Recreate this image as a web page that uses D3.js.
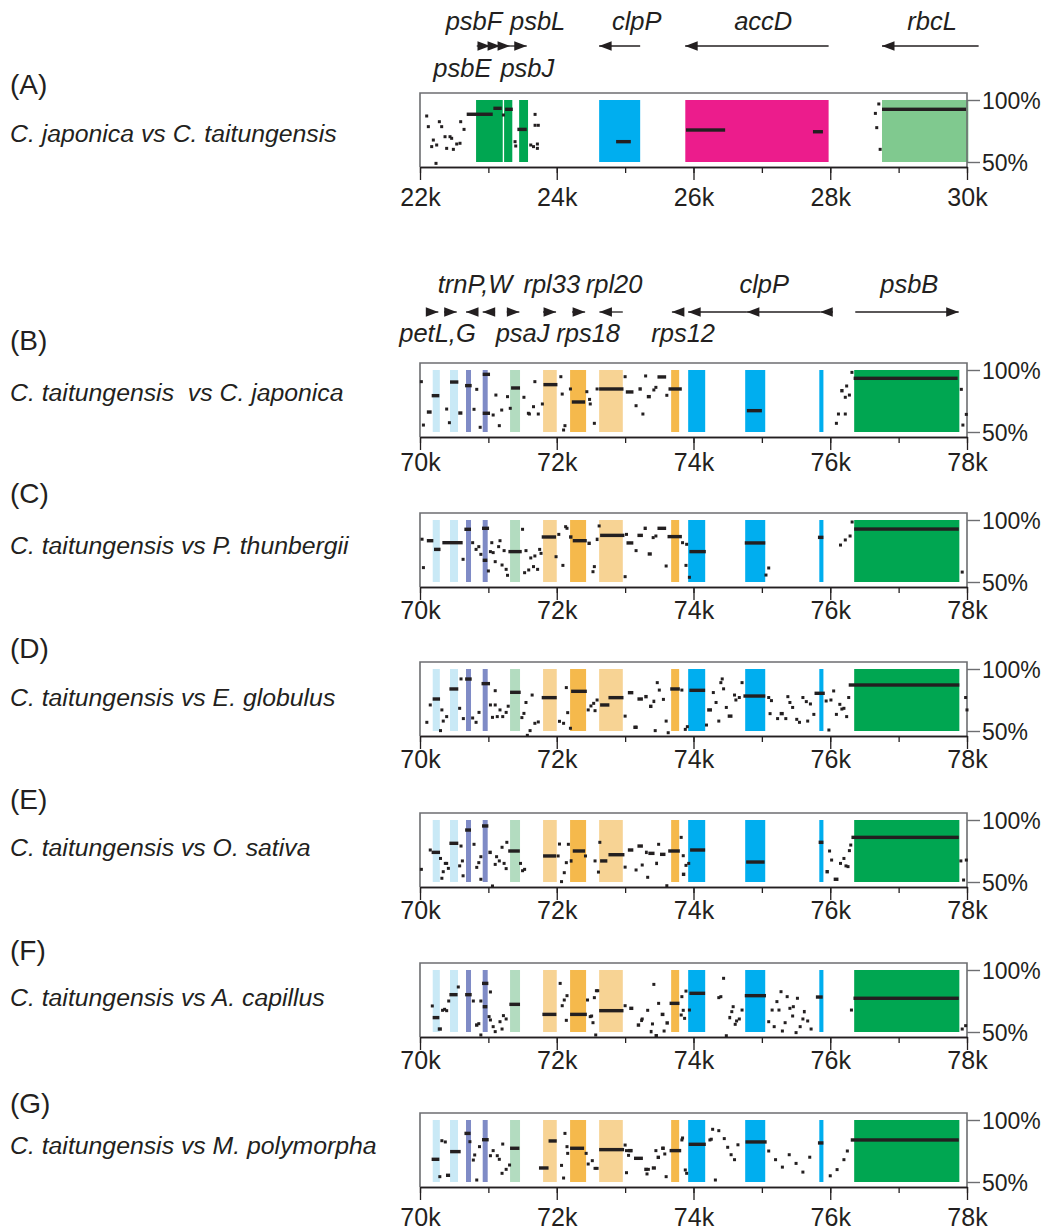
<!DOCTYPE html>
<html><head><meta charset="utf-8">
<script src="https://cdn.jsdelivr.net/npm/d3@7"></script>
<style>body{margin:0;background:#fff}svg{display:block}</style>
</head><body>
<script>
// ---------------- DATA ----------------
const percentTicks = [50, 100];
const tickLabelsA = ["22k","24k","26k","28k","30k"];
const tickLabelsB = ["70k","72k","74k","76k","78k"];

// gene bands [start(k), end(k), gene type]
const bandsA = [[22.82,23.21,"psb"],[23.23,23.35,"psb"],[23.45,23.58,"psb"],[24.62,25.22,"clpP"],[25.88,27.976,"accD"],[28.757,30.02,"rbcL"]];
const bandsBG = [[70.186,70.29,"pet"],[70.439,70.556,"pet"],[70.673,70.746,"trn"],[70.917,70.99,"trn"],[71.317,71.463,"psaJ"],[71.80,72.0,"rpl"],[72.195,72.429,"rps"],[72.62,72.966,"rpl"],[73.673,73.79,"rps"],[73.922,74.171,"clpP"],[74.756,75.049,"clpP"],[75.84,75.90,"clpP"],[76.35,77.888,"psbB"]];

// gene arrows [tail(k), tip(k)]
const arrowsA = [[22.83,23.024],[23.024,23.171],[23.171,23.317],[23.317,23.561],[25.22,24.62],[27.976,25.878],[30.17,28.757]];
const arrowsB = [[70.098,70.268],[70.351,70.537],[70.849,70.673],[71.098,70.917],[71.269,71.453],[71.8,71.99],[72.224,72.415],[72.966,72.624],[73.853,73.684],[74.781,73.922],[75.854,74.781],[76.04,75.854],[76.366,77.878]];

// gene labels [name, position(k), row]
const geneLabelsA = [["psbF",22.79,"top"],["psbL",23.72,"top"],["clpP",25.17,"top"],["accD",27.02,"top"],["rbcL",29.49,"top"],["psbE",22.62,"bottom"],["psbJ",23.57,"bottom"]];
const geneLabelsB = [["trnP,W",70.805,"top"],["rpl33",71.927,"top"],["rpl20",72.839,"top"],["clpP",75.034,"top"],["psbB",77.156,"top"],["petL,G",70.256,"bottom"],["psaJ",71.5,"bottom"],["rps18",72.459,"bottom"],["rps12",73.849,"bottom"]];

const panelLetters = ["(A)","(B)","(C)","(D)","(E)","(F)","(G)"];
const comparisonLabels = ["C. japonica vs C. taitungensis","C. taitungensis  vs C. japonica","C. taitungensis vs P. thunbergii","C. taitungensis vs E. globulus","C. taitungensis vs O. sativa","C. taitungensis vs A. capillus","C. taitungensis vs M. polymorpha"];

// identity segments [start(k), end(k), percent]; dots [pos(k), percent]
const barsA = [[22.683,23.064,88.5],[23.073,23.196,93.3],[23.244,23.357,92.5],[23.424,23.561,76.3],[24.868,25.083,66.4],[25.89,26.463,75.8],[27.747,27.893,74.4],[28.757,29.986,92.5]];
const dotsA = [[22.098,87.1],[22.122,78.5],[22.283,82.5],[22.317,78.5],[22.195,67.7],[22.171,62.4],[22.244,63.7],[22.366,70.4],[22.439,70.4],[22.463,69.1],[22.39,61.0],[22.488,60.2],[22.537,64.5],[22.585,65.1],[22.595,82.5],[22.644,76.3],[22.234,48.9],[23.22,87.9],[23.39,66.4],[23.4,62.9],[23.62,63.7],[23.66,62.4],[23.717,64.5],[23.717,61.0],[23.683,88.4],[23.683,79.6],[23.73,79.6],[28.71,96.8],[28.66,89.2],[28.68,77.7],[28.73,60.2]];

const barsB = [[70.171,70.283,79.3],[70.439,70.561,90.3],[70.659,70.756,87.4],[70.917,71.024,96.5],[70.917,71.024,65.1],[71.332,71.463,85.5],[71.805,72.01,88.2],[72.22,72.415,74.2],[72.62,72.976,84.7],[73.01,73.122,82.3],[73.195,73.244,84.7],[73.317,73.376,78.5],[73.473,73.6,94.4],[73.634,73.829,84.7],[70.1,70.17,66.1],[70.56,70.62,65.3],[74.78,75.0,67.2],[76.342,77.863,93.3],[76.146,76.195,83.3]];
const dotsB = [[70.05,55.6],[70.02,90.6],[70.39,68.5],[70.43,57.5],[70.79,68.3],[70.83,84.4],[70.88,53.8],[71.07,63.7],[71.11,79.8],[71.16,55.1],[71.195,67.7],[71.28,78.5],[71.32,69.1],[71.52,78.0],[71.585,65.1],[71.6,64.5],[71.66,70.4],[71.68,90.6],[71.73,64.5],[71.79,72.6],[72.06,94.6],[72.08,80.6],[72.12,55.1],[72.1,51.6],[72.2,84.7],[72.44,82.5],[72.48,76.3],[72.49,72.6],[72.55,57],[72.59,84.7],[73.0,94.6],[73.16,71.2],[73.26,64.5],[73.3,95.2],[73.45,86],[73.42,83.9],[73.61,79.6],[76.317,98.1],[76.24,87.1],[76.28,79.8],[76.22,78],[76.12,64.5],[76.22,64.5],[76.09,57],[77.917,84.4],[77.99,64.2],[77.94,55.6]];

const barsC = [[70.1,70.195,83.3],[70.205,70.3,76.3],[70.327,70.624,81.7],[70.649,70.746,92.5],[70.907,71.01,93.3],[70.917,70.985,67.5],[71.293,71.488,74.5],[71.78,71.99,86.3],[72.18,72.23,86.3],[72.234,72.439,83.3],[72.449,72.498,81.2],[72.57,72.61,84.4],[72.634,72.99,87.6],[73.02,73.12,81.5],[73.18,73.26,87.6],[73.27,73.317,93.3],[73.33,73.39,72.6],[73.473,73.6,93.3],[73.62,73.83,86.6],[73.94,74.18,74.5],[74.75,75.05,81.5],[75.82,75.9,86],[76.35,77.88,92.7]];
const dotsC = [[70.05,61.6],[70.03,84.5],[70.63,68.3],[70.77,81.7],[70.82,76.3],[70.86,78.5],[70.89,72.3],[71.0,58.9],[71.03,74.5],[71.07,73.7],[71.1,66.4],[71.05,81.7],[71.15,78.5],[71.17,83.3],[71.2,63.7],[71.23,75.3],[71.26,60.2],[71.28,55.4],[71.5,92.5],[71.55,75.3],[71.53,57.5],[71.59,59.7],[71.62,69.4],[71.66,62.4],[71.68,71.0],[71.72,60.2],[71.75,76.3],[71.77,73.1],[71.99,70.4],[72.03,88.4],[72.09,63.4],[72.13,94.6],[72.15,93.3],[72.62,95.2],[72.55,62.4],[72.53,58.3],[73.02,88.4],[73.0,54.3],[73.16,75.3],[73.41,85.8],[73.45,87.1],[73.6,62.9],[73.84,81.7],[73.9,80.4],[73.89,63.4],[73.94,53.8],[75.06,55.6],[75.1,61.3],[76.15,79.8],[76.22,83.9],[76.29,87.1],[76.32,98.4],[77.93,58]];

const barsD = [[70.185,70.293,75.8],[70.43,70.56,83.9],[70.66,70.756,91.9],[70.9,71.024,88.2],[71.317,71.473,81.2],[71.78,72.0,76.9],[72.21,72.44,82.0],[72.634,72.77,71.0],[72.756,72.976,76.9],[73.04,73.12,80.9],[73.18,73.26,75.8],[73.28,73.33,77.7],[73.35,73.4,69.9],[73.4,73.44,73.9],[73.12,73.18,53],[73.66,73.8,83.9],[73.94,74.17,82.8],[74.2,74.27,67],[74.5,74.57,62],[74.73,75.05,78.2],[75.26,75.32,64],[75.77,75.92,80.4],[76.27,77.888,87.1]];
const dotsD = [[70.1,57],[70.15,71],[70.3,50.3],[70.32,67],[70.34,58],[70.39,61.6],[70.58,68.3],[70.6,92],[70.634,60],[70.77,60.5],[70.82,57],[70.863,65],[71.03,71],[71.06,61],[71.1,71],[71.1,82.5],[71.13,61.6],[71.17,67],[71.21,61.6],[71.26,65],[71.29,70],[71.49,60.8],[71.52,64.2],[71.55,73],[71.57,46.5],[71.61,50.3],[71.64,79],[71.68,56.2],[71.73,57.3],[72.04,57.8],[72.1,56.2],[72.14,85],[72.16,64.8],[72.2,52.2],[72.46,67],[72.5,70.2],[72.54,72.3],[72.56,66.4],[72.59,75],[73.0,62],[73.16,53],[73.44,50.3],[73.47,89],[73.5,83],[73.56,75.5],[73.6,58],[73.63,48.6],[73.83,83],[73.88,51.3],[73.91,53.5],[74.19,54.8],[74.29,81],[74.33,73],[74.37,58],[74.4,89],[74.42,92],[74.44,84],[74.48,69],[74.6,79],[74.62,75],[74.67,77],[74.71,89],[75.1,77],[75.14,74.5],[75.12,64],[75.23,60],[75.35,60],[75.38,77.7],[75.41,73],[75.45,69],[75.51,59.4],[75.55,57],[75.6,77],[75.65,73.7],[75.67,58],[75.71,71.8],[75.76,63.4],[75.94,74.2],[75.98,50.8],[76.01,75],[76.05,82.3],[76.09,63.4],[76.14,71.5],[76.17,67.7],[76.2,68.3],[76.24,61.6],[76.27,77],[77.98,77],[78.0,67]];

const barsE = [[70.17,70.293,73.9],[70.43,70.56,81.2],[70.66,70.746,91.9],[70.907,71.0,95.2],[71.0,71.05,73.9],[71.29,71.46,75],[71.8,71.99,71],[72.234,72.415,75],[72.19,72.23,67],[72.634,72.74,67],[72.756,72.99,72],[73.04,73.12,75.8],[73.18,73.26,79],[73.29,73.33,73.9],[73.34,73.43,73.1],[73.51,73.59,72.3],[73.63,73.8,75],[73.95,74.17,75.8],[73.44,73.48,65],[73.83,73.88,56.2],[74.77,75.04,66.1],[75.83,75.9,82],[75.93,75.98,58.3],[76.05,76.12,52.2],[76.31,77.88,86]];
const dotsE = [[70.02,60.2],[70.15,75.8],[70.3,69],[70.32,53],[70.34,58.3],[70.37,65],[70.39,65],[70.415,61],[70.58,63],[70.6,79],[70.62,67],[70.63,55],[70.79,80.4],[70.83,61.8],[70.86,65.6],[70.89,52.2],[70.89,70.4],[71.06,46.8],[71.1,64.2],[71.12,70.4],[71.16,67],[71.2,78],[71.23,65],[71.26,60.8],[71.27,82],[71.47,65],[71.5,59.1],[71.53,60.2],[72.02,71],[72.04,80.6],[72.07,50.3],[72.11,57.5],[72.14,65.6],[72.17,80.4],[72.42,71],[72.56,67],[72.61,58],[72.63,82],[73.0,62],[73.16,59.7],[73.25,63.7],[73.33,53.8],[73.49,80.4],[73.61,47],[73.82,86],[73.85,71.2],[73.89,63.4],[73.93,65],[75.99,75],[76.02,67.7],[76.15,65],[76.2,69],[76.23,63],[76.26,62.4],[76.28,75.3],[76.3,79.8],[77.91,67],[77.99,67.7],[77.95,51.6]];

const barsF = [[70.185,70.283,61.6],[70.26,70.32,52.4],[70.43,70.55,80.1],[70.66,70.756,80.1],[70.907,71.0,89.2],[70.917,70.985,70.4],[70.805,70.854,55.6],[71.307,71.463,72.3],[71.79,71.995,64.2],[72.195,72.44,64.2],[72.62,72.976,67.2],[73.06,73.12,69.1],[73.22,73.26,59.4],[73.17,73.22,55.6],[73.36,73.4,50.3],[73.43,73.48,47],[73.52,73.575,64.2],[73.59,73.64,57.3],[73.65,73.795,73.1],[73.94,74.17,81.2],[74.51,74.55,61.6],[74.75,75.06,79.3],[75.6,75.63,66.4],[75.79,75.89,78.2],[76.34,77.88,77.2]];
const dotsF = [[70.18,71],[70.33,67.5],[70.36,68.3],[70.39,67.2],[70.42,75],[70.56,86.3],[70.78,75],[70.86,56.7],[70.89,47.6],[70.89,75],[71.01,62.4],[71.03,82.3],[71.03,59.7],[71.07,54.3],[71.1,50.3],[71.17,58.3],[71.2,52.4],[71.22,63.2],[71.26,60.5],[72.05,89.2],[72.08,71.2],[72.11,75.8],[72.15,79.3],[72.14,59.4],[72.45,75.8],[72.49,62.4],[72.51,62.9],[72.53,57.5],[72.55,77.7],[72.57,47.6],[72.58,83.3],[72.6,83.3],[73.0,71.2],[73.25,60.5],[73.33,67.5],[73.4,56.5],[73.42,88.4],[73.49,73.1],[73.57,50.8],[73.83,78.5],[73.85,67.5],[73.82,63.7],[73.87,61],[73.89,83],[73.94,67.7],[74.37,77.7],[74.44,93.3],[74.4,78.5],[74.58,70.4],[74.56,66.4],[74.63,58.9],[74.67,60.5],[74.61,56.2],[74.71,67.7],[74.48,47],[75.1,58.3],[75.15,67.7],[75.18,54.3],[75.22,74.5],[75.25,67.7],[75.28,82.5],[75.3,50.8],[75.34,57.5],[75.37,78.5],[75.41,69.1],[75.45,62.9],[75.46,70.4],[75.5,49.5],[75.52,77.2],[75.56,54.3],[75.6,60.5],[75.67,58.9],[75.72,52.4],[76.31,67.7],[77.93,52.4],[77.98,55.1]];

const barsG = [[70.17,70.283,68.3],[70.38,70.44,55.4],[70.44,70.595,74.5],[70.65,70.74,89.2],[70.907,71.005,84.1],[71.317,71.454,77.2],[71.74,71.88,61.3],[71.88,72.0,83.1],[72.195,72.4,77.2],[72.62,72.985,76.1],[73.04,73.11,75.3],[73.13,73.26,69.1],[73.28,73.33,60.2],[73.39,73.45,61.3],[73.46,73.51,69.9],[73.53,73.58,77.2],[73.65,73.82,75.3],[73.93,74.18,80.4],[74.76,75.07,82.3],[75.82,75.9,81.5],[76.3,77.88,83.9]];
const dotsG = [[70.32,83.3],[70.37,82.3],[70.29,54.3],[70.73,82.5],[70.8,71.8],[70.78,67.7],[70.83,51.6],[70.87,78.5],[71.03,71.2],[71.07,75.3],[71.13,71.2],[71.16,68.3],[71.2,57],[71.21,80.6],[71.26,60.2],[71.31,63.7],[72.12,89.2],[72.15,78.5],[72.16,73.1],[72.1,53.2],[72.07,63.4],[72.43,73.1],[72.52,67.2],[72.56,61],[72.59,61],[72.46,64.5],[73.0,79.8],[73.02,57.5],[73.02,75.3],[73.05,71.5],[73.08,75.3],[73.32,56.5],[73.34,60.2],[73.45,75.3],[73.55,77.2],[73.58,72.6],[73.6,54.3],[73.83,83.9],[73.84,85.5],[73.88,59.7],[73.9,57],[74.24,83.9],[74.26,84.5],[74.28,92.5],[74.32,51.6],[74.37,91.4],[74.45,85],[74.5,78],[74.55,72],[74.6,68],[74.65,80],[75.1,75],[75.2,68],[75.3,62],[75.4,72],[75.5,65],[75.6,58],[75.7,70],[76.0,55],[76.1,60],[76.2,68],[76.25,75]];

// ---------------- DRAW ----------------
const W = 1044, H = 1230;
const FONT = '"Liberation Sans", Arial, Helvetica, sans-serif';
const INK = "#231f20";
const geneColor = d3.scaleOrdinal()
  .domain(["psb","clpP","accD","rbcL","pet","trn","psaJ","rpl","rps","psbB"])
  .range(["#00a651","#00aeef","#ec1c8c","#80c98f","#c9e9f6","#7f8bc6","#b3dcc0","#f7d394","#f5b94c","#00a651"]);

const svg = d3.select("body").append("svg").attr("width", W).attr("height", H)
  .style("font-family", FONT);
svg.append("rect").attr("width", W).attr("height", H).attr("fill", "#fff");

const X0 = 420, X1 = 967, PH = 62;
const panels = [
  {bars:barsA, dots:dotsA, bands:bandsA, domain:[22,30], ticks:tickLabelsA, y100:100, letterY:84, labelY:133, tdy:30},
  {bars:barsB, dots:dotsB, bands:bandsBG, domain:[70,78], ticks:tickLabelsB, y100:370, letterY:340, labelY:392, tdy:25},
  {bars:barsC, dots:dotsC, bands:bandsBG, domain:[70,78], ticks:tickLabelsB, y100:520, letterY:493, labelY:545, tdy:23},
  {bars:barsD, dots:dotsD, bands:bandsBG, domain:[70,78], ticks:tickLabelsB, y100:669, letterY:648, labelY:697, tdy:23},
  {bars:barsE, dots:dotsE, bands:bandsBG, domain:[70,78], ticks:tickLabelsB, y100:820, letterY:799, labelY:847, tdy:23},
  {bars:barsF, dots:dotsF, bands:bandsBG, domain:[70,78], ticks:tickLabelsB, y100:970, letterY:950, labelY:997, tdy:23},
  {bars:barsG, dots:dotsG, bands:bandsBG, domain:[70,78], ticks:tickLabelsB, y100:1120, letterY:1103, labelY:1145, tdy:30}
];

panels.forEach((p, i) => {
  const x = d3.scaleLinear().domain(p.domain).range([X0, X1]);
  const y = d3.scaleLinear().domain(percentTicks).range([p.y100 + PH, p.y100]);
  const top = p.y100 - 7, axisY = p.y100 + PH + 5;
  const g = svg.append("g");

  // letter and label
  g.append("text").attr("x", 10).attr("y", p.letterY).attr("dominant-baseline", "central")
    .attr("font-size", 28).attr("fill", INK).text(panelLetters[i]);
  g.append("text").attr("x", 10).attr("y", p.labelY).attr("dominant-baseline", "central")
    .attr("font-size", 24.8).attr("font-style", "italic").attr("fill", INK)
    .style("white-space", "pre").text(comparisonLabels[i]);

  // bands
  g.selectAll("rect.band").data(p.bands).join("rect").attr("class", "band")
    .attr("x", d => x(d[0])).attr("width", d => x(d[1]) - x(d[0]))
    .attr("y", y(100)).attr("height", y(50) - y(100))
    .attr("fill", d => geneColor(d[2]));

  // frame
  g.append("path").attr("d", `M${X0},${axisY}V${top}H${X1}V${axisY}`)
    .attr("fill", "none").attr("stroke", "#6d6e71").attr("stroke-width", 1.6);

  // identity marks
  g.selectAll("rect.bar").data(p.bars).join("rect").attr("class", "bar")
    .attr("x", d => x(d[0])).attr("width", d => Math.max(2.8, x(d[1]) - x(d[0])))
    .attr("y", d => y(d[2]) - 1.7).attr("height", 3.4).attr("fill", INK);
  g.selectAll("rect.dot").data(p.dots).join("rect").attr("class", "dot")
    .attr("x", d => x(d[0]) - 1.5).attr("width", 3)
    .attr("y", d => y(d[1]) - 1.5).attr("height", 3).attr("fill", INK);

  // bottom axis: minor + major
  const minor = d3.range(p.domain[0], p.domain[1] + 1, 1);
  const major = d3.range(p.domain[0], p.domain[1] + 1, 2);
  const axMinor = g.append("g").attr("transform", `translate(0,${axisY})`)
    .call(d3.axisBottom(x).tickValues(minor).tickSize(6).tickSizeOuter(0).tickFormat(""));
  const axMajor = g.append("g").attr("transform", `translate(0,${axisY})`)
    .call(d3.axisBottom(x).tickValues(major).tickSize(13).tickSizeOuter(0)
      .tickFormat((d, j) => p.ticks[j]));
  [axMinor, axMajor].forEach(a => {
    a.select(".domain").attr("stroke", INK).attr("stroke-width", 1.4);
    a.selectAll(".tick line").attr("stroke", INK).attr("stroke-width", 1.3);
  });
  axMajor.selectAll(".tick text").attr("y", p.tdy).attr("dy", null)
    .attr("dominant-baseline", "central").attr("font-size", 25)
    .attr("font-family", FONT).attr("fill", INK);

  // right percent axis
  const ax = g.append("g").attr("transform", `translate(${X1},0)`)
    .call(d3.axisRight(y).tickValues(percentTicks).tickSize(13).tickPadding(2)
      .tickFormat(d => d + "%"));
  ax.select(".domain").remove();
  ax.selectAll(".tick line").attr("stroke", "#6d6e71").attr("stroke-width", 1.4);
  ax.selectAll(".tick text").attr("font-size", 23).attr("font-family", FONT).attr("fill", INK)
    .attr("dy", null).attr("dominant-baseline", "central");
});

// gene arrow tracks
function drawTrack(domain, arrows, labels, arrowY, topY, botY) {
  const x = d3.scaleLinear().domain(domain).range([X0, X1]);
  const g = svg.append("g");
  g.selectAll("line.arr").data(arrows).join("line").attr("class", "arr")
    .attr("x1", d => x(d[0])).attr("x2", d => x(d[1]))
    .attr("y1", arrowY).attr("y2", arrowY)
    .attr("stroke", INK).attr("stroke-width", 1.3);
  g.selectAll("path.head").data(arrows).join("path").attr("class", "head")
    .attr("d", d => {
      const t = x(d[1]), s = d[1] > d[0] ? -1 : 1;
      return `M${t},${arrowY}L${t + s * 12.5},${arrowY - 4.8}L${t + s * 12.5},${arrowY + 4.8}Z`;
    }).attr("fill", INK);
  g.selectAll("text").data(labels).join("text")
    .attr("x", d => x(d[1])).attr("y", d => d[2] === "top" ? topY : botY)
    .attr("text-anchor", "middle").attr("font-size", 25.5).attr("font-style", "italic")
    .attr("fill", INK).text(d => d[0]);
}
drawTrack([22,30], arrowsA, geneLabelsA, 46, 30, 77);
drawTrack([70,78], arrowsB, geneLabelsB, 312, 293, 342);
</script>
</body></html>
